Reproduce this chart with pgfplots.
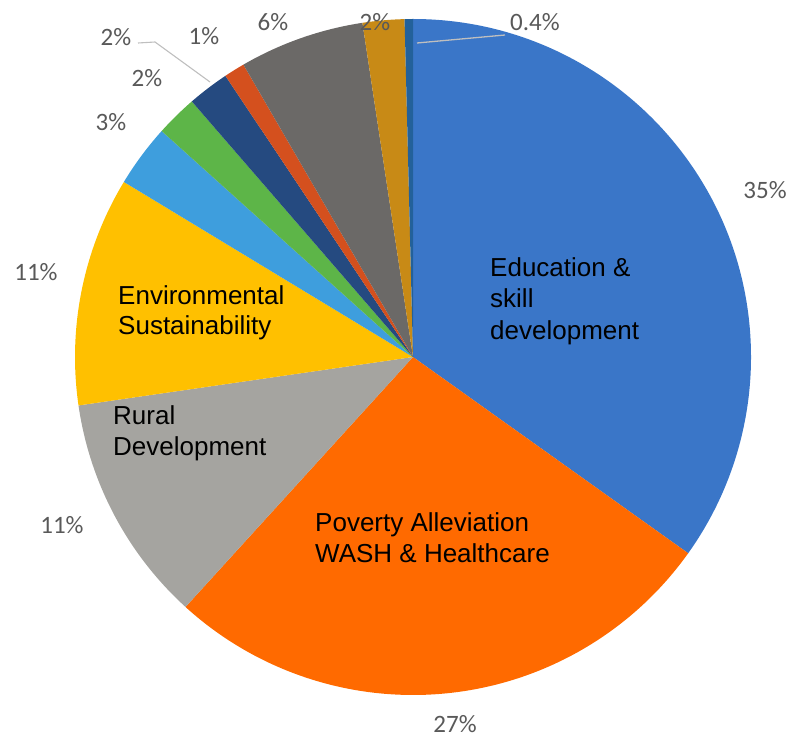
\documentclass[border=0pt]{standalone}
\usepackage{pgfplots}
\pgfplotsset{compat=1.18}
\usepackage{pgfplotstable}
\usepackage{fontspec}
\setmainfont{Liberation Sans}
\newfontfamily\pctfont{Carlito}

\definecolor{c0}{HTML}{3A76C8}
\definecolor{c1}{HTML}{FF6A00}
\definecolor{c2}{HTML}{A5A4A0}
\definecolor{c3}{HTML}{FFC000}
\definecolor{c4}{HTML}{3E9EDD}
\definecolor{c5}{HTML}{5DB548}
\definecolor{c6}{HTML}{254A80}
\definecolor{c7}{HTML}{D4501E}
\definecolor{c8}{HTML}{6B6967}
\definecolor{c9}{HTML}{C88A16}
\definecolor{c10}{HTML}{23619A}
\definecolor{pctgray}{HTML}{595959}
\definecolor{leader}{HTML}{BFBFBF}

\pgfplotstableread{
value
35
27
11
11
3
2
2
1
6
2
0.4
}\piedata

\gdef\cum{0}
\pgfplotstableforeachcolumnelement{value}\of\piedata\as\v{%
  \pgfmathsetmacro\tmp{\cum+\v}\xdef\cum{\tmp}}
\xdef\total{\cum}
\gdef\cum{0}
\pgfplotstableforeachcolumnelement{value}\of\piedata\as\v{%
  \pgfmathsetmacro\sa{90-(\cum/\total)*360}%
  \pgfmathsetmacro\tmp{\cum+\v}\xdef\cum{\tmp}%
  \pgfmathsetmacro\ea{90-(\cum/\total)*360}%
  \expandafter\xdef\csname pieS\pgfplotstablerow\endcsname{\sa}%
  \expandafter\xdef\csname pieE\pgfplotstablerow\endcsname{\ea}}

\begin{document}
\begin{tikzpicture}
\path (0,0) rectangle (794pt,740pt);
\begin{axis}[
  x=1pt, y=1pt,
  xmin=0, xmax=794, ymin=0, ymax=740,
  hide axis, clip=false,
  anchor=south west, at={(0,0)},
]
\pgfplotsinvokeforeach{0,...,10}{
  \fill[c#1] (axis cs:413,383) -- ++(\csname pieS#1\endcsname:338pt)
     arc[start angle=\csname pieS#1\endcsname, end angle=\csname pieE#1\endcsname, radius=338pt] -- cycle;
}
% leader lines
\draw[leader, line width=1.3pt] (axis cs:417,697) -- (axis cs:505,705);
\draw[leader, line width=1.1pt] (axis cs:138,697) -- (axis cs:155,698) -- (axis cs:210,658);
% percentage labels
\begin{scope}[every node/.style={text=pctgray, font=\pctfont\fontsize{25}{30}\selectfont, inner sep=0pt, anchor=center}]
\node at (axis cs:535,718) {0.4\%};
\node at (axis cs:765,550) {35\%};
\node at (axis cs:455,16) {27\%};
\node at (axis cs:62,215) {11\%};
\node at (axis cs:36,468) {11\%};
\node at (axis cs:111,618) {3\%};
\node at (axis cs:147,662) {2\%};
\node at (axis cs:116,703) {2\%};
\node at (axis cs:204,704) {1\%};
\node at (axis cs:273,718) {6\%};
\node at (axis cs:375,718) {2\%};
\end{scope}
% category labels
\begin{scope}[every node/.style={text=black, font=\fontsize{26}{31}\selectfont, inner sep=0pt, anchor=base west}]
\node at (axis cs:490,464) {Education \&};
\node at (axis cs:490,433) {skill};
\node at (axis cs:490,401) {development};
\node at (axis cs:118,436) {Environmental};
\node at (axis cs:118,406) {Sustainability};
\node at (axis cs:113,316) {Rural};
\node at (axis cs:113,285) {Development};
\node at (axis cs:315,209) {Poverty Alleviation};
\node at (axis cs:315,178) {WASH \& Healthcare};
\end{scope}
\end{axis}
\end{tikzpicture}
\end{document}
